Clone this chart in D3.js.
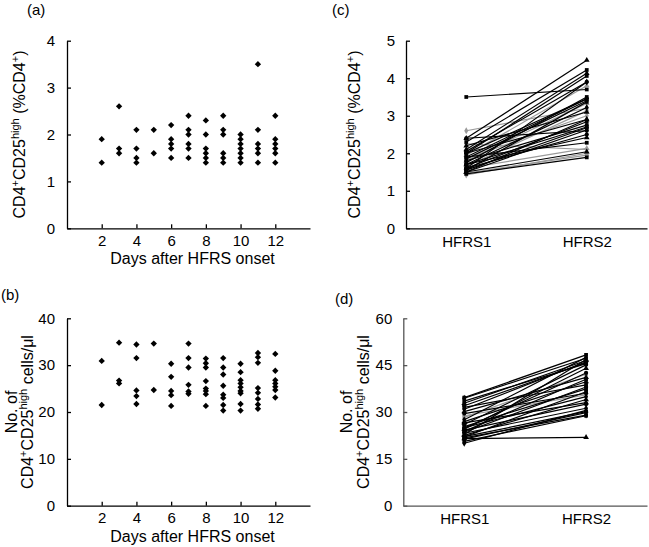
<!DOCTYPE html>
<html><head><meta charset="utf-8">
<script src="https://cdn.jsdelivr.net/npm/d3@7"></script>
<style>
body{margin:0;background:#fff;}
svg{display:block;font-family:"Liberation Sans",Arial,Helvetica,sans-serif;}
</style></head><body>
<svg id="chart" width="649" height="547"></svg>
<script>
// ---------- data ----------
const days = [2,3,4,5,6,7,8,9,10,11,12];
const xTicks = [2,4,6,8,10,12];
// (a) CD4+CD25high % of CD4+ per day
const pctByDay = [
  [1.9,1.4],
  [2.6,1.7,1.6],
  [2.1,1.7,1.5,1.4],
  [2.1,1.6],
  [2.2,1.9,1.8,1.7,1.5],
  [2.4,2.1,2.0,1.8,1.7,1.5],
  [2.3,2.0,1.7,1.6,1.5,1.4],
  [2.4,2.1,2.0,1.6,1.5,1.4],
  [2.0,1.9,1.8,1.7,1.6,1.5,1.4],
  [3.5,2.1,1.8,1.7,1.6,1.4],
  [2.4,1.9,1.8,1.7,1.6,1.4]
];
// (b) CD4+CD25high cells/µl per day
const countByDay = [
  [30.9,21.5],
  [34.8,26.7,26.1],
  [34.4,31.5,24.6,23.4,21.7],
  [34.6,24.7],
  [30.3,27.5,24.5,23.6,21.3],
  [34.6,31.5,29.5,25.8,24.4,23.9],
  [31.4,30.4,29.5,26.6,25.0,24.5,23.8,21.3],
  [31.5,29.5,28.0,25.6,23.7,23.0,21.5,20.3],
  [30.3,28.5,26.8,26.1,25.3,24.5,24.0,21.7,20.3],
  [32.6,31.7,30.5,25.1,24.1,22.8,21.6,20.7],
  [32.4,28.8,26.8,26.1,25.4,24.7,23.1]
];
const stages = ["HFRS1","HFRS2"];
// (c) paired % values
const pctHFRS1 = [3.5,2.6,2.4,2.4,2.3,2.25,2.1,2.05,2.0,2.0,1.95,1.9,1.9,1.85,1.8,1.8,1.75,1.7,1.7,1.65,1.6,1.6,1.6,1.55,1.55,1.5,1.5,1.47,1.45,1.42,2.2,2.0,1.7,1.85,1.5,1.6];
const pctHFRS2 = [3.7,3.2,4.48,2.6,4.22,2.1,4.13,3.9,4.06,2.9,3.8,3.45,2.28,3.4,3.33,2.75,3.5,3.22,2.42,3.13,2.84,3.9,2.13,2.68,3.37,2.62,2.04,1.95,1.89,2.0,3.1,3.45,2.7,3.0,2.9,2.5];
const pctGray  = [0,1,0,0,0,1,0,0,0,0,1,0,0,0,1,0,0,0,0,1,0,0,1,0,0,0,0,1,0,1,0,0,0,1,0,0];
// (d) paired counts
const cntHFRS1 = [34.6,34.4,32.8,32.0,31.5,30.9,30.1,29.5,28.3,27.5,26.9,26.0,25.3,25.0,24.5,24.2,23.8,23.2,22.8,22.1,22.0,21.7,21.5,21.3,20.6,20.0,26.5,23.5,33.5,28.8,22.5,24.8];
const cntHFRS2 = [48.3,47.2,46.5,45.8,38.7,46.1,41.1,36.0,42.1,47.5,39.7,45.1,37.4,34.9,44.0,32.5,40.5,31.2,46.8,30.1,36.5,29.0,21.9,29.8,28.8,30.5,33.0,38.0,45.5,35.5,34.0,42.5];
const cntGray  = [0,0,0,0,0,0,0,0,1,0,0,0,0,0,0,0,0,0,0,0,0,0,0,0,0,0,0,0,0,1,0,0];
const yTicksA = [0,1,2,3,4];
const yTicksB = [0,10,20,30,40];
const yTicksC = [0,1,2,3,4,5];
const yTicksD = [0,15,30,45,60];

// ---------- drawing ----------
const svg = d3.select("#chart");
const shapes = [d3.symbolSquare, d3.symbolDiamond, d3.symbolTriangle, d3.symbolCircle];
const fmt = d3.format("d");

function panelLabel(txt, x, y){
  svg.append("text").attr("x",x).attr("y",y).attr("font-size",15).attr("fill","#000").text(txt);
}
function styleAxis(g, color){
  g.selectAll("path.domain").attr("stroke",color).attr("stroke-width",1.3);
  g.selectAll(".tick line").attr("stroke",color).attr("stroke-width",1.3);
  g.selectAll(".tick text").attr("fill","#000").attr("font-size",15).attr("font-family","Liberation Sans, Arial, sans-serif");
}
function yLabel(lines, x0, cy, dx){
  lines.forEach((parts, i) => {
    const t = svg.append("text")
      .attr("transform",`translate(${x0 + i*dx},${cy}) rotate(-90)`)
      .attr("text-anchor","middle").attr("font-size",16).attr("fill","#000");
    parts.forEach(([s, sup]) => {
      const ts = t.append("tspan").text(s);
      if (sup) ts.attr("font-size",11).attr("baseline-shift","6");
    });
  });
}

function scatterPanel(byDay, yDom, yTicks, top, bottom){
  const x = d3.scaleLinear().domain([0,14]).range([67,310]);
  const y = d3.scaleLinear().domain(yDom).range([bottom, top]);
  const gx = svg.append("g").attr("transform",`translate(0,${bottom})`)
    .call(d3.axisBottom(x).tickValues(xTicks).tickFormat(fmt).tickSizeInner(-4).tickSizeOuter(0).tickPadding(7));
  styleAxis(gx,"#000");
  const gy = svg.append("g").attr("transform",`translate(67,0)`)
    .call(d3.axisLeft(y).tickValues(yTicks).tickFormat(fmt).tickSizeInner(-4).tickSizeOuter(0).tickPadding(12));
  styleAxis(gy,"#000");
  const pts = [];
  days.forEach((d,i) => byDay[i].forEach(v => pts.push({d, v})));
  svg.append("g").selectAll("path").data(pts).join("path")
    .attr("d", d3.symbol(d3.symbolSquare, 20))
    .attr("transform", p => `translate(${x(p.d)},${y(p.v)}) rotate(45)`)
    .attr("fill","#000");
  svg.append("text").attr("x",(x(2)+x(12))/2+4).attr("y",bottom+36)
    .attr("text-anchor","middle").attr("font-size",16).attr("fill","#000").text("Days after HFRS onset");
}

function pairedPanel(v1, v2, gray, yDom, yTicks, axisX, top, bottom, axisColor){
  const x = d3.scalePoint().domain(stages).range([axisX, 647]).padding(0.5);
  const y = d3.scaleLinear().domain(yDom).range([bottom, top]);
  const gx = svg.append("g").attr("transform",`translate(0,${bottom})`)
    .call(d3.axisBottom(x).tickSize(0).tickPadding(8));
  styleAxis(gx, axisColor);
  const gy = svg.append("g").attr("transform",`translate(${axisX},0)`)
    .call(d3.axisLeft(y).tickValues(yTicks).tickFormat(fmt).tickSizeInner(-4).tickSizeOuter(0).tickPadding(11));
  styleAxis(gy, axisColor);
  const pairs = v1.map((a,i) => ({a, b:v2[i], g:gray[i], s:shapes[i % shapes.length]}));
  const order = pairs.slice().sort((p,q) => q.g - p.g);
  const g = svg.append("g");
  order.forEach(p => {
    const col = p.g ? "#9a9a9a" : "#000";
    g.append("line")
      .attr("x1", x("HFRS1")).attr("y1", y(p.a))
      .attr("x2", x("HFRS2")).attr("y2", y(p.b))
      .attr("stroke", col).attr("stroke-width",1.2);
    [["HFRS1",p.a],["HFRS2",p.b]].forEach(([k,v]) => {
      g.append("path").attr("d", d3.symbol(p.s, 14))
        .attr("transform",`translate(${x(k)},${y(v)})`).attr("fill", col);
    });
  });
}

// (a)
panelLabel("(a)", 27, 15);
scatterPanel(pctByDay, [0,4], yTicksA, 40.7, 228.3);
yLabel([[["CD4",0],["+",1],["CD25",0],["high",1],[" (%CD4",0],["+",1],[")",0]]], 25, 134.5, 0);

// (b)
panelLabel("(b)", 1, 300);
scatterPanel(countByDay, [0,40], yTicksB, 318.3, 505.7);
yLabel([[["No. of",0]],[["CD4",0],["+",1],["CD25",0],["high",1],[" cells/μl",0]]], 17, 412, 16);

// (c)
panelLabel("(c)", 332, 15);
pairedPanel(pctHFRS1, pctHFRS2, pctGray, [0,5], yTicksC, 406, 40.7, 228.3, "#000");
yLabel([[["CD4",0],["+",1],["CD25",0],["high",1],[" (%CD4",0],["+",1],[")",0]]], 360, 134.5, 0);

// (d)
panelLabel("(d)", 335, 304);
pairedPanel(cntHFRS1, cntHFRS2, cntGray, [0,60], yTicksD, 403.3, 318.3, 505.7, "#555");
yLabel([[["No. of",0]],[["CD4",0],["+",1],["CD25",0],["high",1],[" cells/μl",0]]], 352, 412, 17);
</script>
</body></html>
